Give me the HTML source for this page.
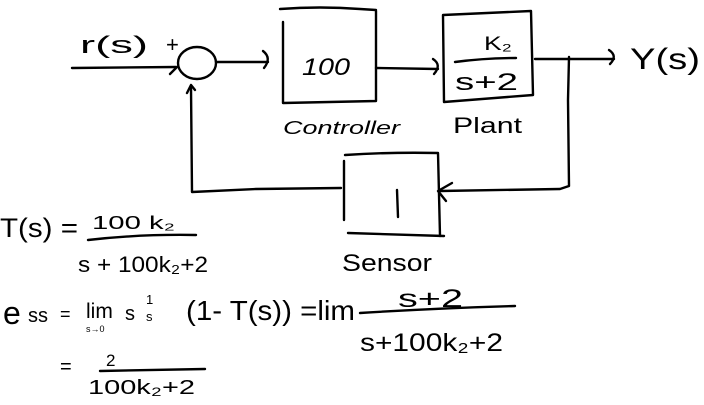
<!DOCTYPE html>
<html><head><meta charset="utf-8"><style>
html,body{margin:0;padding:0;background:#fff;}
svg{display:block}
text{font-family:"Liberation Sans",sans-serif;fill:#000}
</style></head><body>
<svg width="704" height="405" viewBox="0 0 704 405" xmlns="http://www.w3.org/2000/svg">
<g stroke="#000" stroke-width="2.4" fill="none" stroke-linecap="round" stroke-linejoin="round">
<path d="M72 68 L176 67"/>
<path d="M170 74 L177 67"/>
<ellipse cx="197" cy="63" rx="19" ry="16"/>
<path d="M216 62 L268 62"/>
<path d="M263 51 Q272 58 264 68"/>
<path d="M280 9 Q320 6 360 9 L376 10"/>
<path d="M283 22 L283 103 L376 101 L376 11"/>
<path d="M376 68 L438 69"/>
<path d="M433 59 Q442 65 434 74"/>
<path d="M443 15 L531 11 L533 95 L444 102 Z"/>
<path d="M455 62 Q485 58 516 58"/>
<path d="M535 59 L614 59"/>
<path d="M609 50 Q618 56 610 64"/>
<path d="M569 57 L568 100 L569 186 L560 189 L440 191"/>
<path d="M452 183 L438 191 L446 201"/>
<path d="M345 155 Q390 152 438 153 L440 236"/>
<path d="M344 161 L344 220"/>
<path d="M348 233 L444 236"/>
<path d="M397 190 L398 217"/>
<path d="M341 188 L256 189 L192 192 L191 88"/>
<path d="M187 93 L191 85 L195 90"/>
<path d="M88 240 Q140 234 196 235"/>
<path d="M360 313 Q440 308 515 306"/>
<path d="M100 371 L205 369"/>
</g>
<text x="80" y="53" font-size="24" textLength="68" lengthAdjust="spacingAndGlyphs">r(s)</text>
<text x="166" y="52" font-size="22">+</text>
<text x="302" y="75" font-size="24" font-style="italic" textLength="48" lengthAdjust="spacingAndGlyphs">100</text>
<text x="484" y="50" font-size="19" textLength="28" lengthAdjust="spacingAndGlyphs">K₂</text>
<text x="455" y="90" font-size="24" textLength="63" lengthAdjust="spacingAndGlyphs">s+2</text>
<text x="630" y="69" font-size="30" textLength="70" lengthAdjust="spacingAndGlyphs">Y(s)</text>
<text x="283" y="134" font-size="18" font-style="italic" textLength="117" lengthAdjust="spacingAndGlyphs">Controller</text>
<text x="453" y="133" font-size="22" textLength="69" lengthAdjust="spacingAndGlyphs">Plant</text>
<text x="342" y="271" font-size="24" textLength="90" lengthAdjust="spacingAndGlyphs">Sensor</text>
<text x="0" y="237" font-size="27" textLength="78" lengthAdjust="spacingAndGlyphs">T(s) =</text>
<text x="92" y="229" font-size="18" textLength="83" lengthAdjust="spacingAndGlyphs">100 k₂</text>
<text x="78" y="272" font-size="22" textLength="130" lengthAdjust="spacingAndGlyphs">s + 100k₂+2</text>
<text x="3" y="324" font-size="32">e</text>
<text x="28" y="322" font-size="20">ss</text>
<text x="60" y="320" font-size="18">=</text>
<text x="86" y="318" font-size="21">lim</text>
<text x="86" y="332" font-size="9">s→0</text>
<text x="125" y="320" font-size="20">s</text>
<text x="146" y="304" font-size="13">1</text>
<text x="146" y="321" font-size="13">s</text>
<text x="186" y="320" font-size="28" textLength="169" lengthAdjust="spacingAndGlyphs">(1- T(s)) =lim</text>
<text x="398" y="307" font-size="25" textLength="65" lengthAdjust="spacingAndGlyphs">s+2</text>
<text x="360" y="351" font-size="25" textLength="143" lengthAdjust="spacingAndGlyphs">s+100k₂+2</text>
<text x="60" y="373" font-size="20">=</text>
<text x="106" y="366" font-size="17">2</text>
<text x="88" y="394" font-size="20" textLength="107" lengthAdjust="spacingAndGlyphs">100k₂+2</text>
</svg>
</body></html>
